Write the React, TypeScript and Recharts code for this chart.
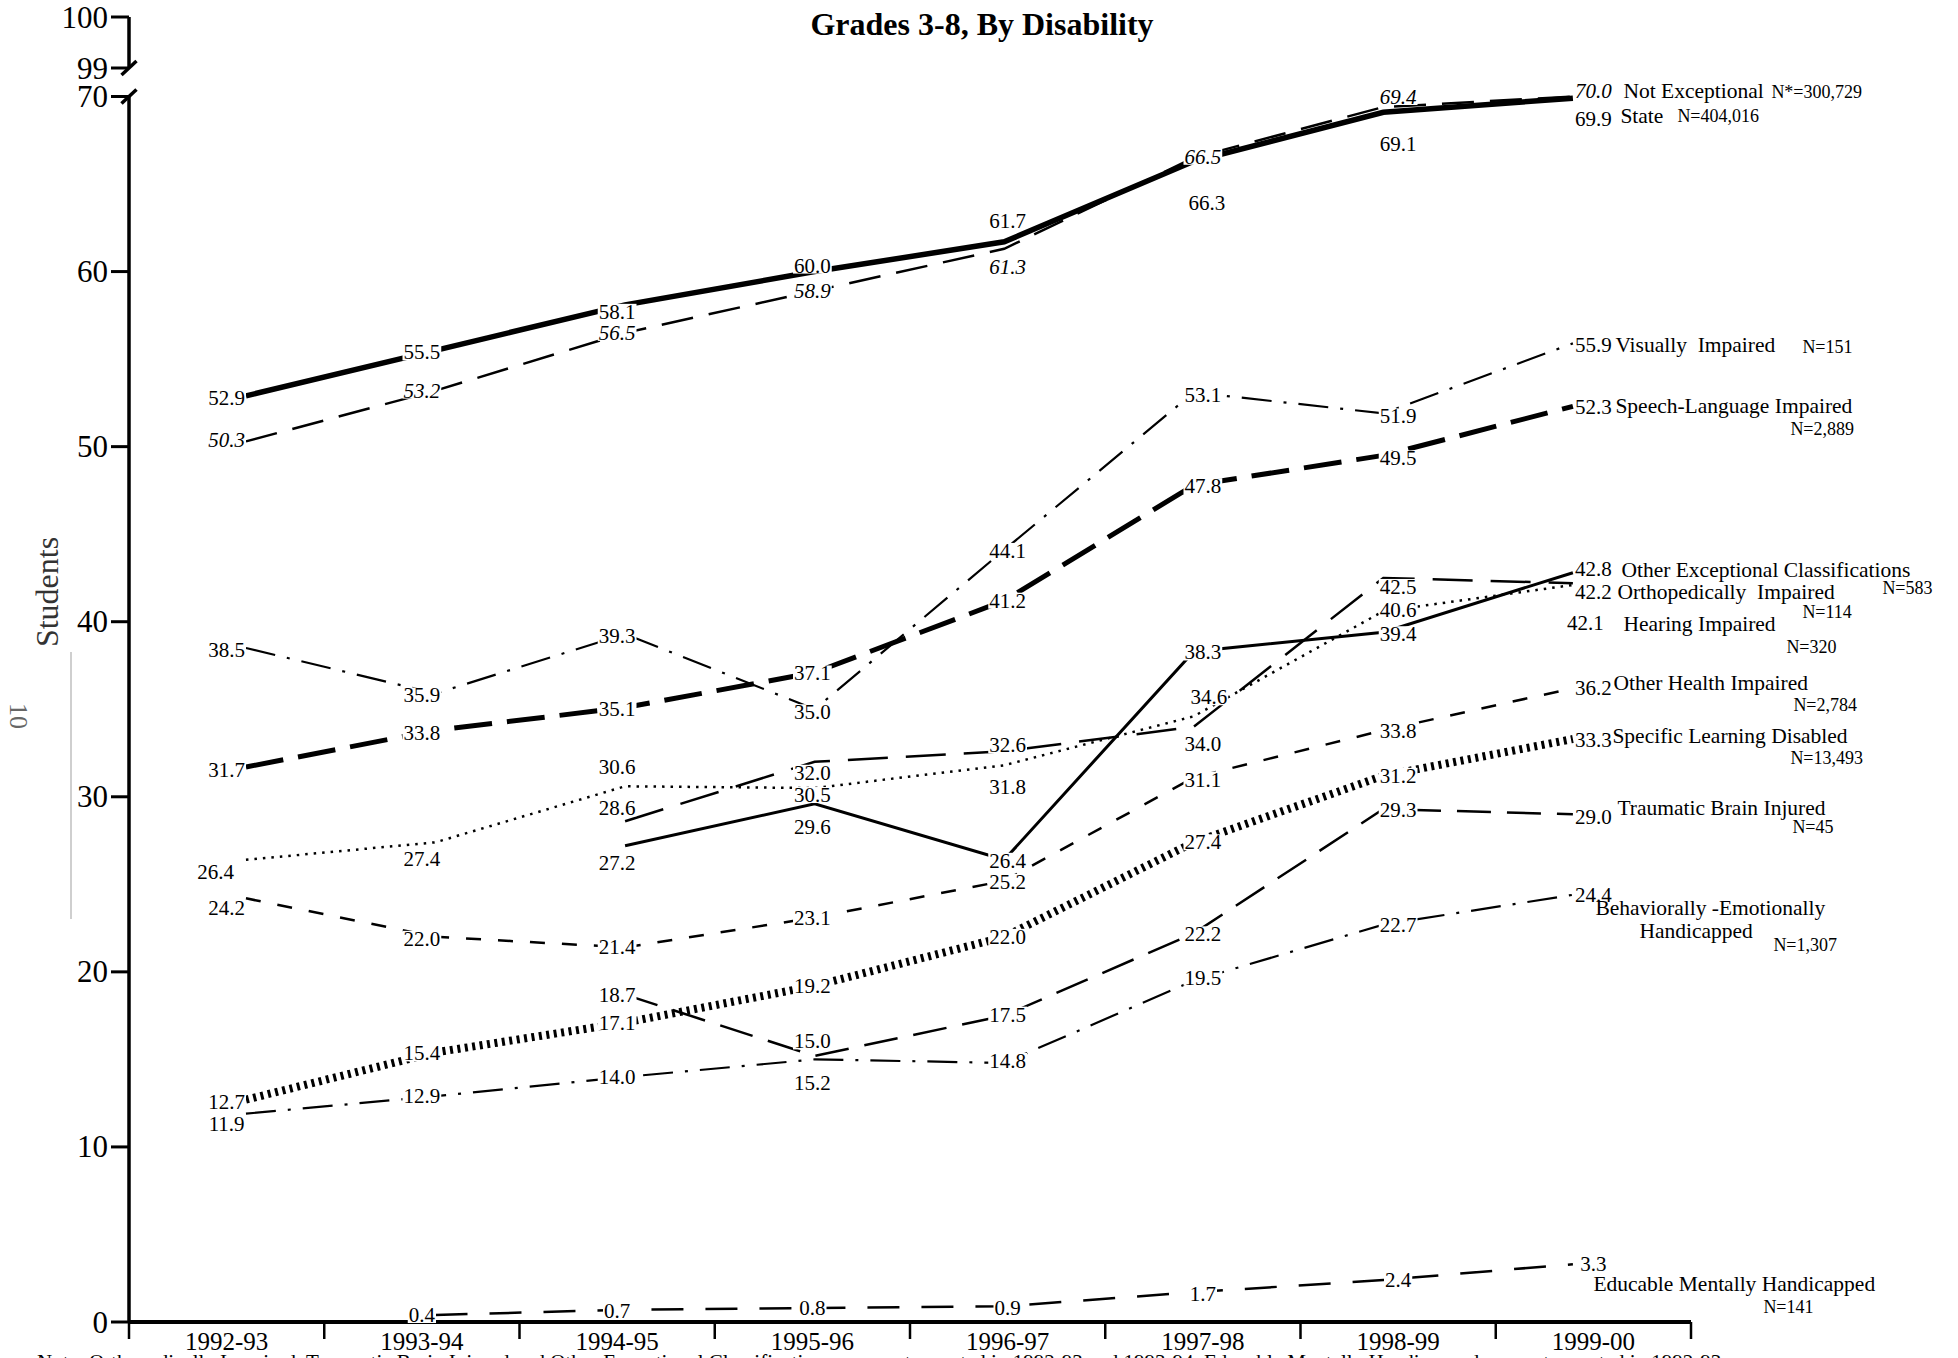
import React from 'react';
import { LineChart, Line, XAxis, YAxis, LabelList } from 'recharts';

const SERIF = '"Liberation Serif", "Times New Roman", Times, serif';

// ---------- data ----------
const years = ['1992-93', '1993-94', '1994-95', '1995-96', '1996-97', '1997-98', '1998-99', '1999-00'];

const state = [52.9, 55.5, 58.1, 60.0, 61.7, 66.3, 69.1, 69.9];
const notExceptional = [50.3, 53.2, 56.5, 58.9, 61.3, 66.5, 69.4, 70.0];
const visuallyImpaired = [38.5, 35.9, 39.3, 35.0, 44.1, 53.1, 51.9, 55.9];
const speechLanguage = [31.7, 33.8, 35.1, 37.1, 41.2, 47.8, 49.5, 52.3];
const otherExceptional = [null, null, 27.2, 29.6, 26.4, 38.3, 39.4, 42.8];
const orthopedically = [null, null, 28.6, 32.0, 32.6, 34.0, 42.5, 42.2];
const hearing = [26.4, 27.4, 30.6, 30.5, 31.8, 34.6, 40.6, 42.1];
const otherHealth = [24.2, 22.0, 21.4, 23.1, 25.2, 31.1, 33.8, 36.2];
const learningDisabled = [12.7, 15.4, 17.1, 19.2, 22.0, 27.4, 31.2, 33.3];
const traumaticBrain = [null, null, 18.7, 15.2, 17.5, 22.2, 29.3, 29.0];
const behavioral = [11.9, 12.9, 14.0, 15.0, 14.8, 19.5, 22.7, 24.4];
const educableMental = [null, 0.4, 0.7, 0.8, 0.9, 1.7, 2.4, 3.3];

const seriesNames = [
  ['State'],
  ['Not Exceptional'],
  ['Visually  Impaired'],
  ['Speech-Language Impaired'],
  ['Other Exceptional Classifications'],
  ['Orthopedically  Impaired'],
  ['Hearing Impaired'],
  ['Other Health Impaired'],
  ['Specific Learning Disabled'],
  ['Traumatic Brain Injured'],
  ['Behaviorally -Emotionally', 'Handicapped'],
  ['Educable Mentally Handicapped'],
];
const seriesCounts = [
  'N=404,016', 'N*=300,729', 'N=151', 'N=2,889', 'N=583', 'N=114', 'N=320',
  'N=2,784', 'N=13,493', 'N=45', 'N=1,307', 'N=141',
];

const yTicks = [0, 10, 20, 30, 40, 50, 60, 70];
const topTicks = [99, 100];
const topRange = [99, 100];
const catTicks = [0, 1, 2, 3, 4, 5, 6, 7];
const boundaryTicks = [-0.5, 0.5, 1.5, 2.5, 3.5, 4.5, 5.5, 6.5, 7.5];

const seriesValues: (number | null)[][] = [
  state, notExceptional, visuallyImpaired, speechLanguage, otherExceptional,
  orthopedically, hearing, otherHealth, learningDisabled, traumaticBrain,
  behavioral, educableMental,
];

// ---------- styles ----------
const lineStyles = [
  { w: 5.5, dash: undefined },
  { w: 2.5, dash: '32 16' },
  { w: 2.2, dash: '30 12 3 12' },
  { w: 5, dash: '38 15' },
  { w: 3, dash: undefined },
  { w: 2.5, dash: '40 18' },
  { w: 2.5, dash: '2.5 6' },
  { w: 2.5, dash: '15 17' },
  { w: 8, dash: '3 4.5' },
  { w: 2.5, dash: '34 16' },
  { w: 2.2, dash: '30 12 3 12' },
  { w: 2.5, dash: '32 22' },
];

// vertical offset of each value label from its point (px)
const labelDy = [
  [2, 2, 7, -6, -21, 42, 32, 21],
  [-1, 0, 0, 0, 18, -1, -10, -6],
  [2, 2, 2, 3, 1, 3, 3, 2],
  [3, 3, 2, 1, 0, 1, 3, 1],
  [0, 0, 17, 23, 1, 1, 2, -4],
  [0, 0, -13, 11, -6, 17, 9, 9],
  [12, 17, -19, 7, 22, -19, -1, 38],
  [10, 2, 0, 0, 1, 2, 1, 0],
  [2, 1, 0, 0, 0, 0, 0, 1],
  [0, 0, 0, 27, -1, 1, 1, 3],
  [10, 0, 0, -18, -2, -3, 0, 0],
  [0, 0, 1, 0, 2, 2, 0, 0],
];
const labelDx = [
  [0, 0, 0, 0, 0, 4, 0, 0],
  [0, 0, 0, 0, 0, 0, 0, 0],
  [0, 0, 0, 0, 0, 0, 0, 0],
  [0, 0, 0, 0, 0, 0, 0, 0],
  [0, 0, 0, 0, 0, 0, 0, 0],
  [0, 0, 0, 0, 0, 0, 0, 0],
  [-11, 0, 0, 0, 0, 6, 0, -8],
  [0, 0, 0, 0, 0, 0, 0, 0],
  [0, 0, 0, 0, 0, 0, 0, 0],
  [0, 0, 0, 0, 0, 0, 0, 0],
  [0, 0, 0, 0, 0, 0, 0, 0],
  [0, 0, 0, 0, 0, 0, 0, 0],
];
// placement of the series name lines and the N text, relative to last label point
const namePos = [
  { names: [[27, 18]], n: [84, 18] },
  { names: [[30, -6]], n: [178, -5] },
  { names: [[22, 2]], n: [209, 4] },
  { names: [[22, 0]], n: [197, 23] },
  { names: [[28, -3]], n: [289, 15] },
  { names: [[24, 9]], n: [209, 29] },
  { names: [[30, 39]], n: [193, 62] },
  { names: [[20, -5]], n: [200, 17] },
  { names: [[19, -3]], n: [197, 19] },
  { names: [[24, -6]], n: [199, 13] },
  { names: [[2, 13], [46, 36]], n: [180, 50] },
  { names: [[0, 20]], n: [170, 43] },
];
const italicSeries = [1];

const TICK_SIZE = 18;
const TICK_MARGIN = 3;
const LABEL_FONT = 21;

const makeYTick = (breakAt: number) => (props: any) => {
  const { x, y, payload } = props;
  const ax = x + TICK_SIZE + TICK_MARGIN;
  return (
    <g>
      <text x={x} y={y} textAnchor="end" dominantBaseline="central" fontSize={31} fontFamily={SERIF} fill="#000">
        {payload.value}
      </text>
      {payload.value === breakAt ? (
        <line x1={ax - 7.5} y1={y + 7} x2={ax + 7.5} y2={y - 7} stroke="#000" strokeWidth={3.5} />
      ) : null}
    </g>
  );
};

const makeLabel = (s: number) => (p: any) => {
  const idx = p.index;
  const v = seriesValues[s][idx];
  if (v == null) return null;
  const x = p.x ?? p.viewBox?.x;
  const y = p.y ?? p.viewBox?.y;
  if (x == null || y == null) return null;
  const dy = labelDy[s][idx] ?? 0;
  const dx = labelDx[s][idx] ?? 0;
  const last = seriesValues[s].length - 1;
  const italic = italicSeries.includes(s);
  const txt = v.toFixed(1);
  const w = (txt.length - 1) * 0.5 * LABEL_FONT + 0.25 * LABEL_FONT;
  const cx = x + dx;
  const cy = y + dy;
  return (
    <g>
      <rect x={cx - w / 2 - 1} y={cy - 8} width={w + 2} height={16} fill="#fff" />
      <text
        x={cx}
        y={cy}
        textAnchor="middle"
        dominantBaseline="central"
        fontSize={LABEL_FONT}
        fontFamily={SERIF}
        fontStyle={italic ? 'italic' : 'normal'}
        fill="#000"
      >
        {txt}
      </text>
      {idx === last
        ? seriesNames[s].map((nm, k) => (
            <text
              key={'n' + k}
              x={x + namePos[s].names[k][0]}
              y={y + namePos[s].names[k][1]}
              textAnchor="start"
              dominantBaseline="central"
              fontSize={21.5}
              fontFamily={SERIF}
              fill="#000"
              style={{ whiteSpace: 'pre' }}
            >
              {nm}
            </text>
          ))
        : null}
      {idx === last ? (
        <text
          x={x + namePos[s].n[0]}
          y={y + namePos[s].n[1]}
          textAnchor="start"
          dominantBaseline="central"
          fontSize={18}
          fontFamily={SERIF}
          fill="#000"
        >
          {seriesCounts[s]}
        </text>
      ) : null}
    </g>
  );
};

export default function App() {
  const data = years.map((yr, i) => {
    const row: any = { i, year: yr };
    seriesValues.forEach((arr, s) => {
      row['s' + s] = arr[i];
    });
    return row;
  });
  const topData = topRange.map((v, i) => ({ i, v }));

  return (
    <div style={{ position: 'fixed', left: 0, top: 0, width: 1958, height: 1358, overflow: 'hidden', background: '#fff' }}>
      <div style={{ position: 'absolute', left: 0, top: 0 }}>
        <LineChart width={1958} height={1358} data={data} margin={{ top: 96.5, right: 267, bottom: 34, left: 69 }}>
          <XAxis
            xAxisId="bnd"
            type="number"
            dataKey="i"
            domain={[-0.5, 7.5]}
            ticks={boundaryTicks}
            interval={0}
            height={1}
            tickSize={17}
            tickFormatter={() => ''}
            axisLine={{ stroke: '#000', strokeWidth: 4 }}
            tickLine={{ stroke: '#000', strokeWidth: 2.5 }}
          />
          <XAxis
            xAxisId="cat"
            type="number"
            dataKey="i"
            domain={[-0.5, 7.5]}
            ticks={catTicks}
            interval={0}
            height={1}
            tickSize={0}
            tickMargin={9}
            axisLine={false}
            tickLine={false}
            tickFormatter={(v: number) => years[v] ?? ''}
            tick={{ fontSize: 25, fontFamily: SERIF, fill: '#000' }}
          />
          <XAxis xAxisId="data" type="number" dataKey="i" domain={[-0.617, 7.623]} hide />
          <YAxis
            type="number"
            domain={[0, 70]}
            ticks={yTicks}
            interval={0}
            width={60}
            tickSize={TICK_SIZE}
            tickMargin={TICK_MARGIN}
            axisLine={{ stroke: '#000', strokeWidth: 3.5 }}
            tickLine={{ stroke: '#000', strokeWidth: 3 }}
            tick={makeYTick(70)}
          />
          {seriesValues.map((_, s) => (
            <Line
              key={'line' + s}
              xAxisId="data"
              type="linear"
              dataKey={'s' + s}
              stroke="#000"
              strokeWidth={lineStyles[s].w}
              strokeDasharray={lineStyles[s].dash}
              dot={false}
              activeDot={false}
              connectNulls={false}
              isAnimationActive={false}
            />
          ))}
          {seriesValues.map((_, s) => (
            <Line
              key={'lab' + s}
              xAxisId="cat"
              type="linear"
              dataKey={'s' + s}
              stroke="none"
              strokeWidth={0}
              dot={false}
              activeDot={false}
              isAnimationActive={false}
            >
              <LabelList dataKey={'s' + s} content={makeLabel(s)} />
            </Line>
          ))}
        </LineChart>
      </div>
      <div style={{ position: 'absolute', left: 0, top: 0 }}>
        <LineChart width={1958} height={120} data={topData} margin={{ top: 17, right: 267, bottom: 52, left: 69 }}>
          <XAxis type="number" dataKey="i" domain={[0, 1]} hide />
          <YAxis
            type="number"
            dataKey="v"
            domain={[99, 100]}
            ticks={topTicks}
            interval={0}
            width={60}
            tickSize={TICK_SIZE}
            tickMargin={TICK_MARGIN}
            axisLine={{ stroke: '#000', strokeWidth: 3.5 }}
            tickLine={{ stroke: '#000', strokeWidth: 3 }}
            tick={makeYTick(99)}
          />
          <Line dataKey="v" stroke="none" strokeWidth={0} dot={false} activeDot={false} isAnimationActive={false} />
        </LineChart>
      </div>
      <svg width={1958} height={1358} style={{ position: 'absolute', left: 0, top: 0, pointerEvents: 'none' }}>
        <text x={982} y={35} textAnchor="middle" fontSize={32} fontWeight="bold" fontFamily={SERIF} fill="#000">
          Grades 3-8, By Disability
        </text>
        <text
          x={47}
          y={592}
          transform="rotate(-90 47 592)"
          textAnchor="middle"
          dominantBaseline="central"
          fontSize={32}
          fontFamily={SERIF}
          fill="#333"
        >
          Students
        </text>
        <line x1={71} y1={652} x2={71} y2={919} stroke="#cfcfcf" strokeWidth={2} />
        <text
          x={18}
          y={716}
          transform="rotate(90 18 716)"
          textAnchor="middle"
          dominantBaseline="central"
          fontSize={26}
          fontFamily={SERIF}
          fill="#666"
        >
          10
        </text>
        <text x={37} y={1369} fontSize={21} fontFamily={SERIF} fill="#000">
          Note: Orthopedically Impaired, Traumatic Brain Injured and Other Exceptional Classifications were not reported in 1992-93 and 1993-94. Educable Mentally Handicapped was not reported in 1992-93.
        </text>
      </svg>
    </div>
  );
}
